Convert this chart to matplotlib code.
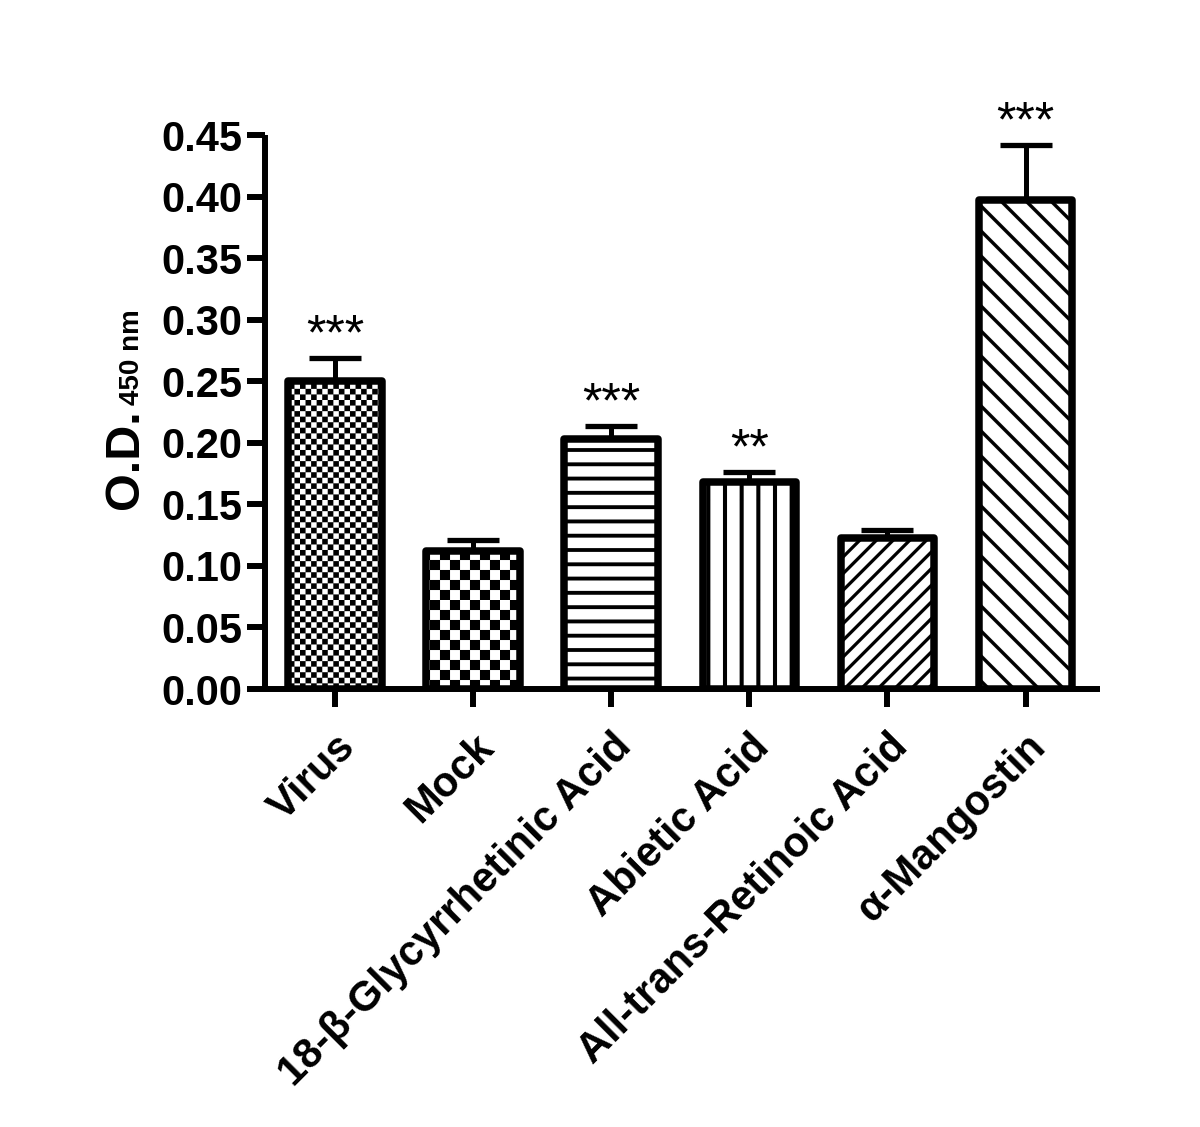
import warnings

import numpy as np
import matplotlib
matplotlib.use("Agg")
import matplotlib.pyplot as plt
from matplotlib import hatch as mhatch
from matplotlib.path import Path

warnings.filterwarnings("ignore")

categories = ["Virus", "Mock", "18-\u03b2-Glycyrrhetinic Acid", "Abietic Acid",
              "All-trans-Retinoic Acid", "\u03b1-Mangostin"]
means = [0.250, 0.112, 0.203, 0.168, 0.123, 0.397]
sem = [0.019, 0.009, 0.011, 0.008, 0.006, 0.045]
stars = ["***", "", "***", "**", "", "***"]
yticks = [0.00, 0.05, 0.10, 0.15, 0.20, 0.25, 0.30, 0.35, 0.40, 0.45]

# fill patterns, one letter per bar (custom hatch types registered below)
patterns = ["c", "k", "h", "v", "f", "b"]


# every pattern is a set of filled quads inside the unit hatch cell
def checker_quads(periods):
    m = 2 * periods
    s = 1.0 / m
    quads = []
    for i in range(m):
        for j in range(m):
            if (i + j) % 2 == 0:
                x, y = i * s, j * s
                quads.append([(x, y), (x + s, y), (x + s, y + s), (x, y + s)])
    return quads


def stripe_quads(n, kind, t):
    quads = []
    if kind in "hv":
        for c in np.linspace(0.0, 1.0, n, endpoint=False) + 0.5 / n:
            if kind == "h":
                quads.append([(0, c - t / 2), (1, c - t / 2), (1, c + t / 2), (0, c + t / 2)])
            else:
                quads.append([(c - t / 2, 0), (c + t / 2, 0), (c + t / 2, 1), (c - t / 2, 1)])
    else:
        d = t * np.sqrt(2) / 2
        for s in np.linspace(-0.5, 0.5, n + 1):
            if kind == "/":
                quads.append([(s - d, -s), (s + d, -s), (1 + s + d, 1 - s), (1 + s - d, 1 - s)])
            else:
                quads.append([(s - d, 1 + s), (s + d, 1 + s), (1 + s + d, s), (1 + s - d, s)])
    return quads


def quad_type(char, quads):
    class Quads(mhatch.HatchPatternBase):
        def __init__(self, hatch, density):
            self.num_vertices = len(quads) * 5 if char in hatch else 0

        def set_vertices_and_codes(self, vertices, codes):
            pts = []
            for q in quads:
                pts += list(q) + [q[0]]
            vertices[:] = pts
            codes[:] = np.tile([Path.MOVETO, Path.LINETO, Path.LINETO,
                                Path.LINETO, Path.CLOSEPOLY], len(quads))
    return Quads


mhatch._hatch_types.extend([
    quad_type("c", checker_quads(9)),
    quad_type("k", checker_quads(5)),
    quad_type("h", stripe_quads(7, "h", 0.038)),
    quad_type("v", stripe_quads(6, "v", 0.04)),
    quad_type("f", stripe_quads(12, "/", 0.032)),
    quad_type("b", stripe_quads(8, "\\", 0.034)),
])

plt.rcParams["font.family"] = "Liberation Sans"
plt.rcParams["font.weight"] = "bold"
plt.rcParams["hatch.linewidth"] = 0.05

fig = plt.figure(figsize=(12, 11.27), dpi=100)
ax = fig.add_axes([0.2208, 0.3886, 0.6959, 0.4916])

x = np.arange(len(categories))
ax.errorbar(x, means, yerr=[np.zeros(len(sem)), sem], fmt="none", ecolor="black",
            elinewidth=3.6, capsize=19, capthick=3.8, zorder=1)
bars = ax.bar(x, means, width=0.68, color="white", edgecolor="black",
              linewidth=5.4, zorder=2)
for bar, p in zip(bars, patterns):
    bar.set_hatch(p)
    bar.set_joinstyle("round")

for xi, m, e, s in zip(x, means, sem, stars):
    if s:
        ax.annotate(s, (xi, m + e), xytext=(0, -1), textcoords="offset points",
                    ha="center", va="bottom", fontsize=36, fontweight="normal")

ax.set_xlim(-0.51, 5.54)
ax.set_ylim(0, 0.45)
ax.set_yticks(yticks)
ax.set_yticklabels([f"{v:.2f}" for v in yticks])
ax.set_xticks(x)
ax.set_xticklabels(categories, rotation=45, ha="right", va="top",
                   rotation_mode="anchor", fontsize=31)

for side in ("top", "right"):
    ax.spines[side].set_visible(False)
for side in ("left", "bottom"):
    ax.spines[side].set_linewidth(4.3)
    ax.spines[side].set_capstyle("butt")
ax.tick_params(axis="both", direction="out", length=13, width=4.3, labelsize=30)
ax.tick_params(axis="y", pad=3)
ax.tick_params(axis="x", pad=14)

# y label: "O.D." with a small "450 nm" after it on the same baseline
fig.text(0.115, 0.637, "O.D.", rotation=90, rotation_mode="anchor",
         ha="right", va="baseline", fontsize=35)
fig.text(0.116, 0.641, "450 nm", rotation=90, rotation_mode="anchor",
         ha="left", va="baseline", fontsize=20)

fig.savefig("out.png", dpi=100)
